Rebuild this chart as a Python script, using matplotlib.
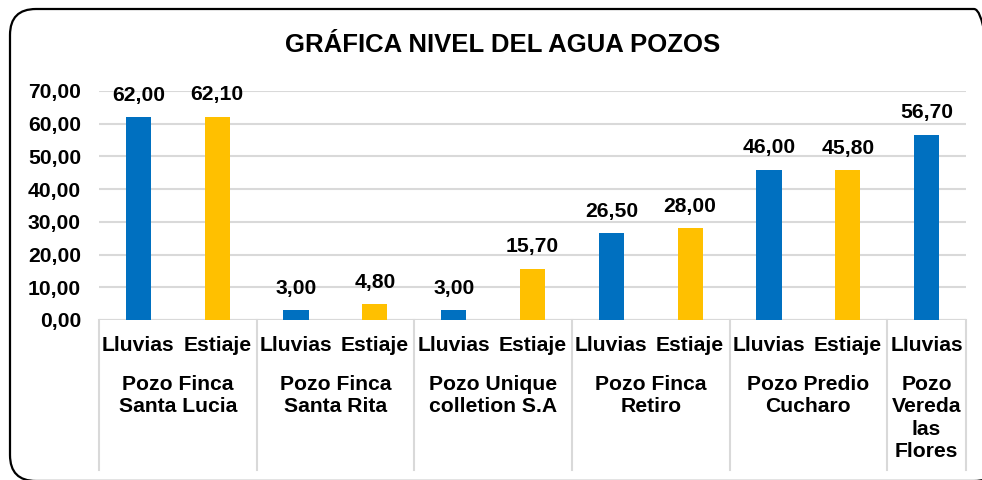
import matplotlib
matplotlib.use("Agg")
import matplotlib.pyplot as plt
from matplotlib.patches import FancyBboxPatch
from matplotlib.transforms import IdentityTransform, blended_transform_factory

plt.rcParams['font.family'] = ['Liberation Sans', 'DejaVu Sans']

groups = ["Pozo Finca\nSanta Lucia", "Pozo Finca\nSanta Rita", "Pozo Unique\ncolletion S.A",
          "Pozo Finca\nRetiro", "Pozo Predio\nCucharo", "Pozo\nVereda\nlas\nFlores"]
seasons = [["Lluvias", "Estiaje"], ["Lluvias", "Estiaje"], ["Lluvias", "Estiaje"],
           ["Lluvias", "Estiaje"], ["Lluvias", "Estiaje"], ["Lluvias"]]
values = [[62.00, 62.10], [3.00, 4.80], [3.00, 15.70], [26.50, 28.00], [46.00, 45.80], [56.70]]
title = "GRÁFICA NIVEL DEL AGUA POZOS"
yticks = [0, 10, 20, 30, 40, 50, 60, 70]

colors = {"Lluvias": "#0070C0", "Estiaje": "#FFC000"}

W, H = 982, 480
fig = plt.figure(figsize=(W / 100, H / 100), dpi=100)
ax = fig.add_axes([99 / W, 1 - 320 / H, (966 - 99) / W, (320 - 91) / H])

fs = 15.2
pos = 0
group_bounds = [-0.5]
tr = blended_transform_factory(ax.transData, ax.transAxes)
for g, (gname, seas, vals) in enumerate(zip(groups, seasons, values)):
    start = pos
    for s, v in zip(seas, vals):
        ax.bar(pos, v, width=0.32, color=colors[s], zorder=3)
        ax.annotate(f"{v:.2f}".replace(".", ","), (pos, v), xytext=(0, 9),
                    textcoords="offset points", ha="center", va="bottom",
                    fontsize=fs, fontweight="bold", zorder=4)
        ax.text(pos, -0.112, s, transform=tr,
                ha="center", va="center", fontsize=fs, fontweight="bold")
        pos += 1
    center = (start + pos - 1) / 2
    ax.text(center, -0.24, gname, transform=tr,
            ha="center", va="top", fontsize=fs, fontweight="bold", linespacing=1.22)
    group_bounds.append(pos - 0.5)

ax.set_xlim(-0.5, pos - 0.5)
ax.set_ylim(0, 70)
ax.set_yticks(yticks)
ax.set_yticklabels([f"{t:.2f}".replace(".", ",") for t in yticks], fontsize=fs, fontweight="bold")
ax.tick_params(axis="y", length=0, pad=13)
ax.set_xticks([])
ax.grid(axis="y", color="#D9D9D9", linewidth=1.5, zorder=0)
for sp in ax.spines.values():
    sp.set_visible(False)
ax.axhline(0, color="#D9D9D9", linewidth=1.5, zorder=2)

for b in group_bounds:
    ax.plot([b, b], [0, -0.655], transform=tr, color="#D9D9D9", linewidth=1.5, clip_on=False)

fig.text(503 / W, 1 - 45 / H, title, ha="center", va="center", fontsize=18.5, fontweight="bold")

border = FancyBboxPatch((10, -1), 990, 472, boxstyle="round,pad=0,rounding_size=26",
                        transform=IdentityTransform(), facecolor="none", edgecolor="black",
                        linewidth=1.6)
fig.patches.append(border)

fig.savefig("out.png", dpi=100)
